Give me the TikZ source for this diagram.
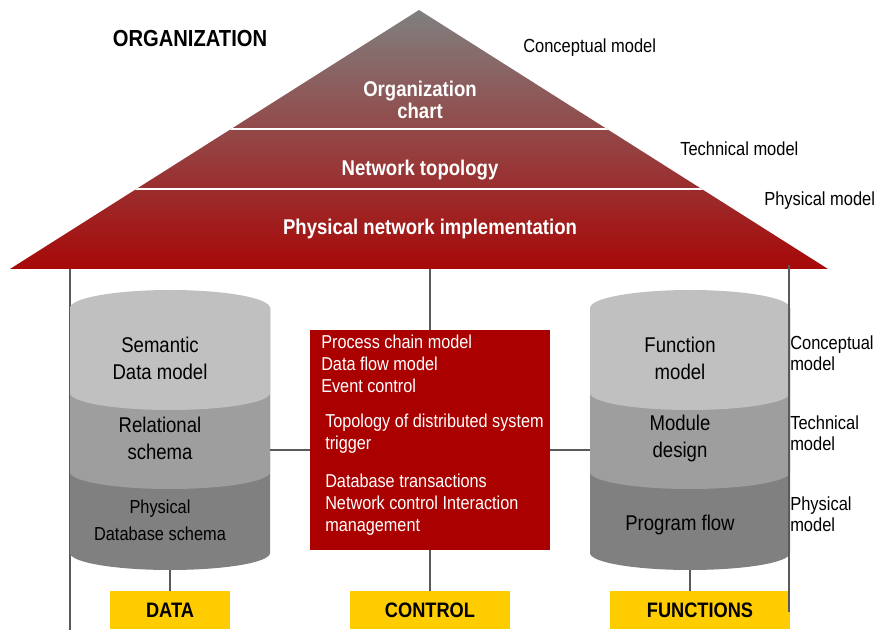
\documentclass[tikz,border=0pt]{standalone}
\usepackage{fontspec}
\setmainfont{Liberation Sans}[FakeStretch=0.87]

\definecolor{roofgray}{RGB}{128,128,128}
\definecolor{roofmid}{RGB}{155,85,85}
\definecolor{roofred}{RGB}{168,8,8}
\definecolor{boxred}{RGB}{170,0,0}
\definecolor{cyllight}{RGB}{192,192,192}
\definecolor{cylmid}{RGB}{158,158,158}
\definecolor{cyldark}{RGB}{128,128,128}
\definecolor{tagyellow}{RGB}{255,204,0}
\definecolor{wire}{RGB}{90,90,90}

\tikzset{
  wireline/.style={draw=wire, line width=0.8pt},
  rooftext/.style={text=white, align=center, inner sep=0pt,
    font=\bfseries\fontsize{16}{16.5}\selectfont},
  drumtext/.style={align=center, inner sep=0pt,
    font=\fontsize{16}{20.25}\selectfont},
  drumsmall/.style={align=center, inner sep=0pt,
    font=\fontsize{14.1}{20.25}\selectfont},
  sidelabel/.style={anchor=west, align=left, inner sep=0pt,
    font=\fontsize{14.2}{16}\selectfont},
  boxtext/.style={anchor=west, align=left, inner sep=0pt, text=white,
    font=\fontsize{14}{16.5}\selectfont},
  tag/.style={fill=tagyellow, minimum height=28.5pt, inner sep=0pt,
    font=\bfseries\fontsize{15.7}{18}\selectfont},
  pics/drum/.style={code={
    \fill[cyldark] (0,0) -- (0,245)
      arc[start angle=180, end angle=360, x radius=75pt, y radius=12.75pt]
      -- (200,0) -- cycle;
    \fill[cylmid] (0,0) -- (0,164)
      arc[start angle=180, end angle=360, x radius=75pt, y radius=12.75pt]
      -- (200,0) -- cycle;
    \fill[cyllight] (0,0) -- (0,85)
      arc[start angle=180, end angle=360, x radius=75pt, y radius=12.75pt]
      -- (200,0)
      arc[start angle=0, end angle=180, x radius=75pt, y radius=13.5pt]
      -- cycle;
  }}
}

\begin{document}
\begin{tikzpicture}[x=0.75pt, y=-0.75pt]
\useasboundingbox (0,0) rectangle (875,630);

% house walls
\draw[wireline] (70,265) -- (70,630);

% roof
\coordinate (apex) at (419,10);
\coordinate (eaveL) at (10,269);
\coordinate (eaveR) at (828,269);
\coordinate (roofbase) at (430,269);
\shade[top color=roofgray, middle color=roofmid, bottom color=roofred]
  (apex) -- (eaveR) -- (eaveL) -- cycle;
\begin{scope}
  \clip (apex) -- (eaveR) -- (eaveL) -- cycle;
  \draw[white, line width=1.5pt] (0,129) -- (875,129);
  \draw[white, line width=1.5pt] (0,189) -- (875,189);
\end{scope}
\node[rooftext] (orgchart) at (420,100) {Organization\\chart};
\node[rooftext] (nettopo) at (420,170) {Network topology};
\node[rooftext] (physnet) at (430,229) {Physical network implementation};

\node[inner sep=0pt, font=\bfseries\fontsize{17.4}{20}\selectfont] (org) at (190,39) {ORGANIZATION};

\node[sidelabel] (lconc) at (523,48) {Conceptual model};
\node[sidelabel] (ltech) at (680,149) {Technical model};
\node[sidelabel] (lphys) at (764,201) {Physical model};

% cylinders
\pic at (70,308) {drum};
\pic at (590,308) {drum};
\node[minimum width=150pt, minimum height=210pt, inner sep=0pt] (datadrum) at (170,430) {};
\node[minimum width=150pt, minimum height=210pt, inner sep=0pt] (fundrum) at (690,430) {};

\node[drumtext] (sem) at (160,358) {Semantic\\Data model};
\node[drumtext] (rel) at (160,438) {Relational\\schema};
\node[drumsmall] (pdb) at (160,520) {Physical\\Database schema};

\node[drumtext] (fmod) at (680,358) {Function\\model};
\node[drumtext] (mdes) at (680,438) {Module\\design};
\node[drumtext] (pflow) at (680,525) {Program flow};

\node[sidelabel] (rconc) at (790,353) {Conceptual\\model};
\node[sidelabel] (rtech) at (790,433) {Technical\\model};
\node[sidelabel] (rphys) at (790,514) {Physical\\model};

% control box
\node[fill=boxred, minimum width=180pt, minimum height=165pt, inner sep=0pt] (ctrlbox) at (430,440) {};
\node[boxtext] (g1) at (321,364) {Process chain model\\Data flow model\\Event control};
\node[boxtext] (g2) at (325,434) {Topology of distributed system\\trigger};
\node[boxtext] (g3) at (325,505) {Database transactions\\Network control Interaction\\management};

% bottom tags
\node[tag, minimum width=90pt] (data) at (170,610) {DATA};
\node[tag, minimum width=120pt] (control) at (430,610) {CONTROL};
\node[tag, minimum width=135pt] (funcs) at (700,610) {FUNCTIONS};

% connectors
\coordinate (link) at (0,450);
\draw[wireline] (roofbase) -- (ctrlbox.north);
\draw[wireline] (ctrlbox.south) -- (control.north);
\draw[wireline] (datadrum.south) -- (data.north);
\draw[wireline] (fundrum.south) -- (fundrum.south |- funcs.north);
\draw[wireline] (datadrum.east |- link) -- (ctrlbox.west |- link);
\draw[wireline] (ctrlbox.east |- link) -- (fundrum.west |- link);

% right wall
\draw[wireline] (789,265) -- (789,612);
\end{tikzpicture}
\end{document}
